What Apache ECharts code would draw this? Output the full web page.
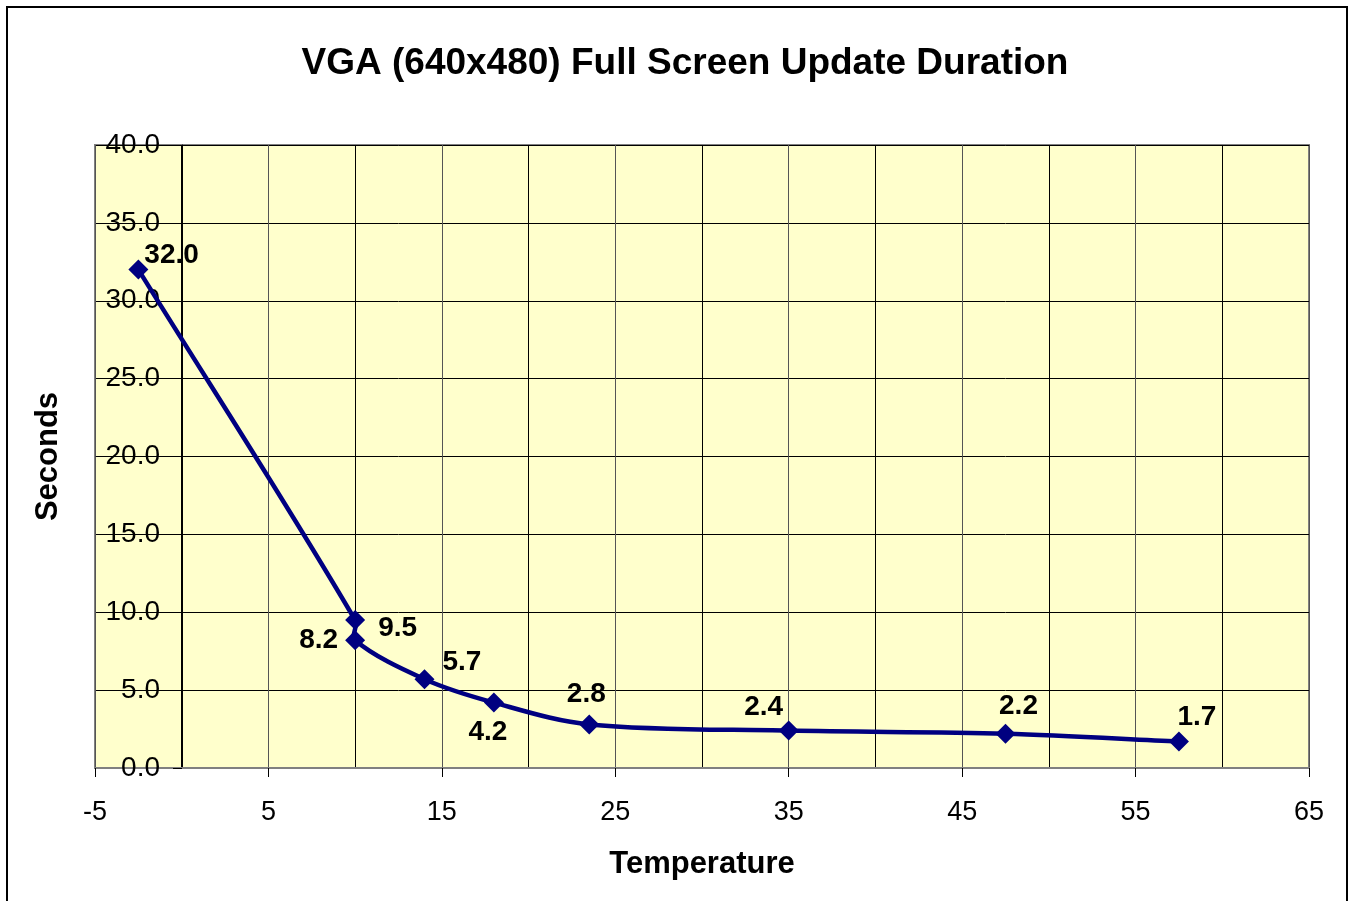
<!DOCTYPE html>
<html>
<head>
<meta charset="utf-8">
<title>VGA Full Screen Update Duration</title>
<script src="https://cdn.jsdelivr.net/npm/echarts@6/dist/echarts.min.js"></script>
<style>
  html, body { margin: 0; padding: 0; background: #fff; }
  #chart { width: 1349px; height: 901px; }
</style>
</head>
<body>
<div id="chart"></div>
<script>
// values
var temperature = [-2.5, 10, 10, 14, 18, 23.5, 35, 47.5, 57.5];
var seconds = [32.0, 9.5, 8.2, 5.7, 4.2, 2.8, 2.4, 2.2, 1.7];
var xTicks = [-5, 5, 15, 25, 35, 45, 55, 65];

// where each data label sits round its point (style only)
var labelPlace = [
    { position: 'right', offset: [-9, -14] },
    { position: 'right', offset: [8, 8] },
    { position: 'left', offset: [-2, 0] },
    { position: 'right', offset: [3, -17] },
    { position: 'bottom', offset: [-6, 1] },
    { position: 'top', offset: [-3, -1] },
    { position: 'top', offset: [-25, 6] },
    { position: 'top', offset: [13, 2] },
    { position: 'top', offset: [18, 5] }
];

var font = 'Liberation Sans, Arial, sans-serif';
var navy = '#000080';
var tension = 1 / 3;

var points = temperature.map(function (t, i) {
    return {
        value: [t, seconds[i]],
        label: labelPlace[i]
    };
});

// Excel style smoothing: one bezier per segment, control points along the
// neighbour chord, scaled by segment length (no clamping like echarts does)
function smoothSegment(params, api) {
    var i = params.dataIndex;
    var n = temperature.length;
    if (i >= n - 1) return null;
    function pt(k) {
        k = Math.max(0, Math.min(n - 1, k));
        return api.coord([temperature[k], seconds[k]]);
    }
    function dist(a, b) {
        return Math.sqrt((a[0] - b[0]) * (a[0] - b[0]) + (a[1] - b[1]) * (a[1] - b[1]));
    }
    var p0 = pt(i - 1), p1 = pt(i), p2 = pt(i + 1), p3 = pt(i + 2);
    var d01 = dist(p0, p1), d12 = dist(p1, p2), d23 = dist(p2, p3);
    var r1 = d01 + d12 > 0 ? d12 / (d01 + d12) : 0;
    var r2 = d12 + d23 > 0 ? d12 / (d12 + d23) : 0;
    var c1 = [p1[0] + (p2[0] - p0[0]) * tension * r1, p1[1] + (p2[1] - p0[1]) * tension * r1];
    var c2 = [p2[0] - (p3[0] - p1[0]) * tension * r2, p2[1] - (p3[1] - p1[1]) * tension * r2];
    return {
        type: 'bezierCurve',
        shape: {
            x1: p1[0], y1: p1[1], x2: p2[0], y2: p2[1],
            cpx1: c1[0], cpy1: c1[1], cpx2: c2[0], cpy2: c2[1]
        },
        style: { stroke: navy, lineWidth: 4.5, fill: null }
    };
}

var chart = echarts.init(document.getElementById('chart'));

chart.setOption({
    animation: false,
    title: {
        text: 'VGA (640x480) Full Screen Update Duration',
        left: 680,
        textAlign: 'center',
        top: 40,
        textStyle: { fontFamily: font, fontSize: 37, fontWeight: 'bold', color: '#000' }
    },
    graphic: [{
        type: 'rect',
        shape: { x: 7, y: 7, width: 1340, height: 900 },
        style: { fill: 'none', stroke: '#000', lineWidth: 2 },
        silent: true
    }],
    grid: {
        left: 95, right: 40, top: 145, bottom: 133,
        containLabel: false,
        outerBoundsMode: 'none',
        show: true,
        backgroundColor: '#FFFFCC',
        borderColor: '#808080',
        borderWidth: 2
    },
    xAxis: {
        type: 'value',
        min: -5, max: 65, interval: 10,
        name: 'Temperature',
        nameLocation: 'middle',
        nameGap: 81,
        nameTextStyle: { fontFamily: font, fontSize: 31, fontWeight: 'bold', color: '#000' },
        axisLine: { show: true, onZero: false, lineStyle: { color: '#808080', width: 2 } },
        axisTick: { show: true, length: 9, lineStyle: { color: '#000' } },
        axisLabel: {
            margin: 31,
            fontFamily: font, fontSize: 27, color: '#000',
            formatter: function (v) { return xTicks.indexOf(v) >= 0 ? String(v) : ''; }
        },
        splitLine: { show: true, lineStyle: { color: '#555', width: 1 } },
        minorTick: { show: true, splitNumber: 2, length: 0 },
        minorSplitLine: { show: true, lineStyle: { color: '#000', width: 1 } }
    },
    yAxis: {
        type: 'value',
        min: 0, max: 40, interval: 5,
        // the value axis crosses the category axis at temperature 0 (5 units in)
        offset: -87,
        name: 'Seconds',
        nameLocation: 'middle',
        nameGap: 118,
        nameRotate: 90,
        nameTextStyle: { fontFamily: font, fontSize: 31, fontWeight: 'bold', color: '#000' },
        axisLine: { show: true, onZero: false, lineStyle: { color: '#000', width: 1 } },
        axisTick: { show: true, length: 9, lineStyle: { color: '#000' } },
        axisLabel: {
            margin: 22,
            fontFamily: font, fontSize: 28, color: '#000',
            formatter: function (v) { return v.toFixed(1); }
        },
        splitLine: { show: true, lineStyle: { color: '#000', width: 1 } }
    },
    series: [{
        type: 'custom',
        renderItem: smoothSegment,
        data: points.map(function (p) { return p.value; }),
        encode: { x: 0, y: 1 },
        z: 2,
        silent: true
    }, {
        type: 'line',
        data: points,
        z: 3,
        symbol: 'diamond',
        symbolSize: 20,
        itemStyle: { color: navy },
        lineStyle: { width: 0, opacity: 0 },
        label: {
            show: true,
            fontFamily: font, fontSize: 28, fontWeight: 'bold', color: '#000',
            formatter: function (p) { return p.value[1].toFixed(1); }
        }
    }]
});
</script>
</body>
</html>
